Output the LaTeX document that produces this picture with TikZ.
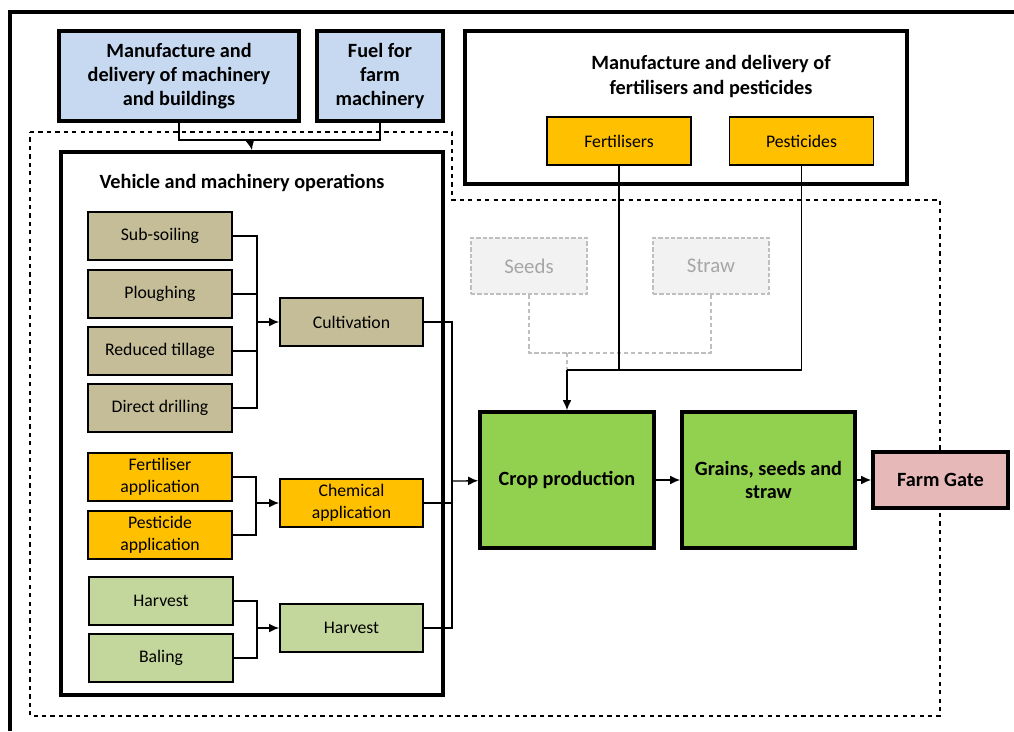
\documentclass[tikz,border=0pt]{standalone}
\usepackage{fontspec}
\setmainfont{Carlito}
\usetikzlibrary{arrows.meta}
\definecolor{boxblue}{HTML}{C6D9F1}
\definecolor{boxtan}{HTML}{C4BD97}
\definecolor{boxorange}{HTML}{FFC000}
\definecolor{boxlime}{HTML}{C3D69B}
\definecolor{boxgreen}{HTML}{92D050}
\definecolor{boxpink}{HTML}{E6B9B8}
\definecolor{ghostfill}{HTML}{F2F2F2}
\definecolor{ghostline}{HTML}{BFBFBF}
\definecolor{ghosttext}{HTML}{A6A6A6}
\begin{document}
\begin{tikzpicture}[x=0.025cm,y=-0.025cm,
    op/.style={draw=black,line width=1.3pt,align=center,minimum width=3.6cm,minimum height=1.18cm,inner sep=1pt,font=\fontsize{12.6}{15.5}\selectfont},
    group/.style={op,minimum width=3.575cm},
    thickbox/.style={draw=black,line width=2.6pt,align=center,inner sep=2pt,font=\fontsize{14.4}{17}\selectfont\bfseries},
    ghost/.style={draw=ghostline,fill=ghostfill,line width=1.5pt,dash pattern=on 3pt off 1.5pt,text=ghosttext,minimum width=2.9cm,minimum height=1.4cm,font=\fontsize{14.8}{17}\selectfont},
    head/.style={align=center,font=\fontsize{14.4}{17.7}\selectfont\bfseries},
    link/.style={line width=0.9pt},
    tip/.style={-{Latex[length=2.5mm,width=2.2mm]}}]
        \useasboundingbox (0,0) rectangle (1014,731);
        \draw[line width=2.6pt] (10,731) -- (10,12) -- (1014,12);
        \draw[dashed,line width=0.8pt] (30,132) -- (452,132) -- (452,200) -- (940,200) -- (940,716) -- (30,716) -- cycle;

        % inputs
        \node[thickbox,fill=boxblue,minimum width=6cm,minimum height=2.25cm] at (179,76) (mach) {Manufacture and\\delivery of machinery\\and buildings};
        \node[thickbox,fill=boxblue,minimum width=3.15cm,minimum height=2.25cm] at (380,76) (fuel) {Fuel for\\farm\\machinery};

        \node[thickbox,fill=white,minimum width=11.05cm,minimum height=3.825cm] at (686,107.5) (chembox) {};
        \node[head] at (711,76.5) (chemtitle) {Manufacture and delivery of\\fertilisers and pesticides};
        \node[op,fill=boxorange,minimum height=1.2cm] at (619,141) (fert) {Fertilisers};
        \node[op,fill=boxorange,minimum height=1.2cm] at (801.5,141) (pest) {Pesticides};

        % machinery operations
        \node[thickbox,minimum width=9.55cm,minimum height=13.575cm] at (252,423.5) (veh) {};
        \node[head] at (242,183) (vehtitle) {Vehicle and machinery operations};

        \node[op,fill=boxtan] at (160,236) (sub) {Sub-soiling};
        \node[op,fill=boxtan] at (160,294) (plough) {Ploughing};
        \node[op,fill=boxtan] at (160,351) (tillage) {Reduced tillage};
        \node[op,fill=boxtan] at (160,408) (drill) {Direct drilling};
        \node[op,fill=boxorange] at (160,477) (fertapp) {Fertiliser\\application};
        \node[op,fill=boxorange] at (160,535) (pestapp) {Pesticide\\application};
        \node[op,fill=boxlime] at (161,601) (harv) {Harvest};
        \node[op,fill=boxlime] at (161,658) (bale) {Baling};

        \node[group,fill=boxtan] at (351.5,322) (cult) {Cultivation};
        \node[group,fill=boxorange] at (351.5,503) (chemapp) {Chemical\\application};
        \node[group,fill=boxlime] at (351.5,628) (harvall) {Harvest};

        % field and output
        \node[ghost] at (529,266) (seeds) {Seeds};
        \node[ghost] at (711,266) (straw) {Straw};
        \node[thickbox,fill=boxgreen,minimum width=4.35cm,minimum height=3.4cm] at (567,480) (crop) {Crop production};
        \node[thickbox,fill=boxgreen,minimum width=4.325cm,minimum height=3.4cm] at (768.5,480) (grain) {Grains, seeds and\\straw};
        \node[thickbox,fill=boxpink,minimum width=3.375cm,minimum height=1.4cm] at (940.5,480) (gate) {Farm Gate};

        \coordinate (topj) at (250,140);
        \coordinate (cultj) at (257,322);
        \coordinate (chemj) at (256,503);
        \coordinate (harvj) at (257,628);
        \coordinate (opsj) at (452,481);
        \coordinate (inj) at (567,370);
        \coordinate (ghostj) at (567,353);

        \draw[link] (mach.south) |- (topj);
        \draw[link] (fuel.south) |- (topj);
        \draw[link,tip] (topj) -- (veh.north);

        \foreach \n in {sub,plough,tillage,drill}
            \draw[link] (\n.east) -| (cultj);
        \draw[link,tip] (cultj) -- (cult);
        \foreach \n in {fertapp,pestapp}
            \draw[link] (\n.east) -| (chemj);
        \draw[link,tip] (chemj) -- (chemapp);
        \foreach \n in {harv,bale}
            \draw[link] (\n.east) -| (harvj);
        \draw[link,tip] (harvj) -- (harvall);

        \foreach \n in {cult,chemapp,harvall}
            \draw[link] (\n.east) -| (opsj);
        \draw[link,tip] (opsj) -- (crop);

        \draw[ghostline,densely dashed,line width=0.8pt] (seeds.south) |- (ghostj);
        \draw[ghostline,densely dashed,line width=0.8pt] (straw.south) |- (ghostj);
        \draw[ghostline,densely dashed,line width=0.8pt] (ghostj) -- (inj);

        \draw[link] (fert.south) |- (inj);
        \draw[link] (pest.south) |- (inj);
        \draw[link,tip] (inj) -- (crop.north);

        \draw[link,tip] (crop) -- (grain);
        \draw[link,tip] (grain) -- (gate);
\end{tikzpicture}
\end{document}
